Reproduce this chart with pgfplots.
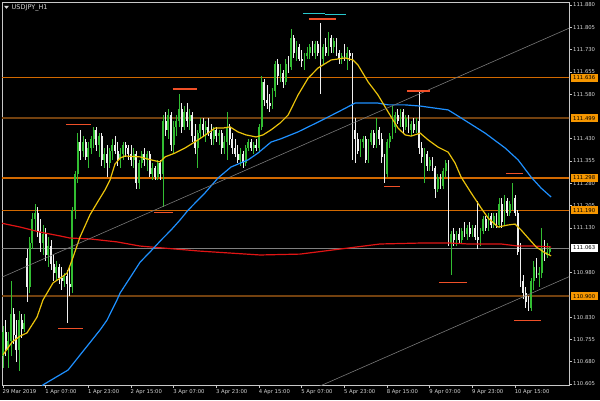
\documentclass[border=0pt]{standalone}
\usepackage{pgfplots}
\pgfplotsset{compat=1.18}
\usepackage{pgfplotstable}
\usepackage{fontspec}
\setmainfont{DejaVu Sans}

\definecolor{framecol}{RGB}{200,200,200}
\definecolor{txtcol}{RGB}{215,215,215}
\definecolor{cup}{RGB}{50,190,50}
\definecolor{cdown}{RGB}{240,240,240}
\definecolor{maY}{RGB}{235,195,10}
\definecolor{maB}{RGB}{30,144,255}
\definecolor{maR}{RGB}{225,20,20}
\definecolor{lvlA}{RGB}{210,105,0}
\definecolor{lvlB}{RGB}{115,65,15}
\definecolor{boxorange}{RGB}{245,150,0}
\definecolor{hlmark}{RGB}{240,80,40}
\definecolor{cyanl}{RGB}{40,200,205}
\definecolor{trend}{RGB}{120,120,120}
\definecolor{bidline}{RGB}{128,128,128}

\newcommand{\smallfont}{\fontsize{5.3}{6}\selectfont}

% USDJPY H1 bars: index, open, high, low, close
\pgfplotstableread{
i o h l c
0 110.70 110.80 110.66 110.78
1 110.78 110.82 110.70 110.72
2 110.72 110.78 110.66 110.75
3 110.75 110.95 110.70 110.84
4 110.84 110.86 110.74 110.77
5 110.77 110.82 110.68 110.72
6 110.72 110.85 110.65 110.82
7 110.82 110.84 110.76 110.79
8 110.79 110.84 110.78 110.81
9 111.03 111.06 110.88 110.93
10 110.93 111.10 110.91 111.08
11 111.08 111.18 111.06 111.16
12 111.16 111.21 111.12 111.18
13 111.18 111.20 111.10 111.12
14 111.12 111.16 111.05 111.08
15 111.08 111.14 111.04 111.11
16 111.11 111.13 111.02 111.04
17 111.04 111.10 111.00 111.07
18 111.07 111.09 110.99 111.01
19 111.01 111.04 110.95 110.98
20 110.98 111.02 110.95 111.00
21 111.00 111.01 110.94 110.96
22 110.96 111.00 110.92 110.95
23 110.95 110.98 110.93 110.97
24 110.97 110.99 110.81 110.94
25 110.94 111.00 110.90 110.93
26 110.93 111.20 110.91 111.19
27 111.19 111.32 111.16 111.31
28 111.31 111.45 111.28 111.42
29 111.42 111.46 111.36 111.39
30 111.39 111.44 111.37 111.42
31 111.42 111.43 111.36 111.37
32 111.37 111.42 111.33 111.40
33 111.40 111.44 111.38 111.43
34 111.43 111.47 111.40 111.46
35 111.46 111.47 111.39 111.41
36 111.41 111.45 111.37 111.44
37 111.44 111.45 111.34 111.36
38 111.36 111.40 111.33 111.38
39 111.38 111.41 111.30 111.35
40 111.35 111.40 111.33 111.39
41 111.39 111.43 111.36 111.41
42 111.41 111.44 111.38 111.39
43 111.39 111.42 111.34 111.36
44 111.36 111.40 111.33 111.38
45 111.38 111.42 111.36 111.41
46 111.41 111.42 111.37 111.40
47 111.40 111.41 111.36 111.38
48 111.38 111.41 111.34 111.36
49 111.36 111.40 111.33 111.38
50 111.38 111.39 111.26 111.28
51 111.28 111.36 111.26 111.35
52 111.35 111.39 111.33 111.38
53 111.38 111.40 111.34 111.36
54 111.36 111.39 111.32 111.38
55 111.38 111.39 111.30 111.31
56 111.31 111.35 111.29 111.33
57 111.33 111.34 111.29 111.30
58 111.30 111.36 111.29 111.35
59 111.35 111.36 111.29 111.31
60 111.31 111.51 111.20 111.49
61 111.49 111.52 111.44 111.46
62 111.46 111.53 111.43 111.51
63 111.51 111.52 111.39 111.41
64 111.41 111.49 111.38 111.47
65 111.47 111.51 111.44 111.49
66 111.49 111.58 111.47 111.53
67 111.53 111.55 111.45 111.47
68 111.47 111.54 111.46 111.52
69 111.52 111.55 111.47 111.49
70 111.49 111.53 111.46 111.51
71 111.51 111.52 111.42 111.44
72 111.44 111.48 111.38 111.40
73 111.40 111.46 111.33 111.45
74 111.45 111.50 111.43 111.48
75 111.48 111.50 111.44 111.46
76 111.46 111.49 111.42 111.47
77 111.47 111.50 111.44 111.45
78 111.45 111.48 111.41 111.43
79 111.43 111.47 111.41 111.46
80 111.46 111.47 111.42 111.44
81 111.44 111.46 111.41 111.45
82 111.45 111.46 111.38 111.40
83 111.40 111.44 111.38 111.42
84 111.42 111.52 111.36 111.47
85 111.47 111.48 111.41 111.43
86 111.43 111.45 111.38 111.40
87 111.40 111.43 111.37 111.38
88 111.38 111.41 111.35 111.36
89 111.36 111.40 111.34 111.38
90 111.38 111.39 111.33 111.35
91 111.35 111.41 111.34 111.40
92 111.40 111.43 111.39 111.42
93 111.42 111.43 111.39 111.40
94 111.40 111.42 111.38 111.41
95 111.41 111.43 111.39 111.40
96 111.40 111.48 111.39 111.47
97 111.47 111.64 111.46 111.62
98 111.62 111.63 111.54 111.56
99 111.56 111.61 111.53 111.55
100 111.55 111.58 111.52 111.54
101 111.54 111.60 111.53 111.59
102 111.59 111.69 111.57 111.68
103 111.68 111.70 111.61 111.64
104 111.64 111.68 111.62 111.65
105 111.65 111.66 111.60 111.62
106 111.62 111.70 111.61 111.68
107 111.68 111.71 111.65 111.67
108 111.67 111.80 111.66 111.77
109 111.77 111.78 111.70 111.72
110 111.72 111.76 111.69 111.74
111 111.74 111.75 111.69 111.70
112 111.70 111.73 111.67 111.69
113 111.69 111.72 111.66 111.71
114 111.71 111.74 111.70 111.72
115 111.72 111.75 111.70 111.74
116 111.74 111.76 111.71 111.72
117 111.72 111.76 111.70 111.75
118 111.75 111.76 111.71 111.72
119 111.72 111.82 111.58 111.70
120 111.70 111.75 111.68 111.74
121 111.74 111.77 111.71 111.72
122 111.72 111.79 111.71 111.77
123 111.77 111.78 111.72 111.74
124 111.74 111.77 111.72 111.76
125 111.76 111.77 111.71 111.72
126 111.72 111.73 111.68 111.70
127 111.70 111.72 111.68 111.71
128 111.71 111.75 111.69 111.70
129 111.70 111.74 111.66 111.72
130 111.72 111.73 111.69 111.71
131 111.71 111.72 111.36 111.42
132 111.46 111.50 111.35 111.43
133 111.43 111.45 111.38 111.39
134 111.39 111.43 111.37 111.42
135 111.42 111.44 111.40 111.43
136 111.43 111.44 111.35 111.36
137 111.36 111.43 111.35 111.42
138 111.42 111.46 111.41 111.45
139 111.45 111.46 111.40 111.41
140 111.41 111.50 111.40 111.46
141 111.46 111.47 111.41 111.43
142 111.43 111.45 111.35 111.37
143 111.37 111.38 111.28 111.31
144 111.31 111.43 111.30 111.42
145 111.42 111.45 111.40 111.44
146 111.44 111.54 111.43 111.47
147 111.47 111.52 111.45 111.51
148 111.51 111.53 111.48 111.49
149 111.49 111.53 111.47 111.52
150 111.52 111.53 111.45 111.47
151 111.47 111.51 111.46 111.50
152 111.50 111.51 111.45 111.46
153 111.46 111.49 111.44 111.48
154 111.48 111.50 111.45 111.46
155 111.46 111.50 111.45 111.49
156 111.49 111.59 111.38 111.40
157 111.40 111.42 111.35 111.37
158 111.37 111.40 111.28 111.38
159 111.38 111.39 111.32 111.34
160 111.34 111.37 111.32 111.36
161 111.36 111.37 111.32 111.33
162 111.33 111.34 111.23 111.26
163 111.26 111.31 111.25 111.30
164 111.30 111.31 111.26 111.27
165 111.27 111.33 111.26 111.32
166 111.32 111.36 111.30 111.35
167 111.35 111.36 111.07 111.08
168 111.08 111.12 110.97 111.11
169 111.11 111.13 111.07 111.09
170 111.09 111.12 111.07 111.11
171 111.11 111.13 111.08 111.09
172 111.09 111.13 111.08 111.12
173 111.12 111.15 111.10 111.11
174 111.11 111.14 111.09 111.13
175 111.13 111.15 111.10 111.11
176 111.11 111.14 111.10 111.13
177 111.13 111.14 111.09 111.10
178 111.10 111.22 111.06 111.09
179 111.09 111.13 111.07 111.12
180 111.12 111.17 111.11 111.16
181 111.16 111.17 111.12 111.13
182 111.13 111.18 111.12 111.17
183 111.17 111.18 111.13 111.14
184 111.14 111.18 111.13 111.17
185 111.17 111.18 111.13 111.14
186 111.14 111.23 111.13 111.21
187 111.21 111.23 111.13 111.15
188 111.15 111.24 111.14 111.22
189 111.22 111.23 111.17 111.18
190 111.18 111.22 111.17 111.21
191 111.21 111.28 111.19 111.23
192 111.23 111.24 111.17 111.18
193 111.18 111.19 111.04 111.05
194 111.05 111.08 110.93 110.95
195 110.95 110.97 110.89 110.91
196 110.91 110.93 110.86 110.88
197 110.88 110.90 110.85 110.86
198 110.86 110.96 110.85 110.95
199 110.95 111.02 110.92 111.00
200 111.00 111.03 110.96 110.97
201 110.97 111.00 110.93 110.98
202 110.98 111.13 110.96 111.06
203 111.06 111.09 111.02 111.04
204 111.04 111.08 111.03 111.05
205 111.05 111.07 111.04 111.063
}\candles

\begin{document}
\begin{tikzpicture}
\fill[black] (0pt,0pt) rectangle (600pt,400pt);
\begin{axis}[
  at={(2pt,15pt)}, anchor=south west,
  scale only axis, width=567pt, height=383pt,
  xmin=-0.375, xmax=212.2, ymin=110.6016, ymax=111.8901,
  clip mode=individual,
  unbounded coords=discard,
  axis line style={draw=framecol, line width=0.8pt},
  tick align=outside, major tick length=3pt,
  tick style={draw=framecol, line width=0.6pt},
  ytick pos=right, yticklabel pos=right,
  xtick pos=bottom,
  scaled y ticks=false,
  % the price scale; 110.905, 111.055 and 111.505 sit under the level boxes
  ytick={110.605,110.680,110.755,110.830,110.980,111.130,111.205,111.280,111.355,111.430,111.580,111.655,111.730,111.805,111.880},
  yticklabel style={font=\smallfont, text=txtcol, anchor=west, inner sep=0pt, xshift=1pt,
    /pgf/number format/.cd, fixed, fixed zerofill, precision=3, 1000 sep={}, assume math mode=true},
  xtick={0,16,32,48,64,80,96,112,128,144,160,176,192},
  xticklabels={29 Mar 2019,1 Apr 07:00,1 Apr 23:00,2 Apr 15:00,3 Apr 07:00,3 Apr 23:00,4 Apr 15:00,5 Apr 07:00,5 Apr 23:00,8 Apr 15:00,9 Apr 07:00,9 Apr 23:00,10 Apr 15:00},
  xticklabel style={font=\smallfont, text=txtcol, anchor=north west, inner sep=0pt, xshift=-0.5pt, yshift=-1pt},
]
% support / resistance levels
\addplot[lvlA, line width=1.1pt] coordinates {(-1,111.636) (213,111.636)};
\addplot[lvlB, line width=2pt] coordinates {(-1,111.499) (213,111.499)};
\addplot[lvlA, line width=1.1pt] coordinates {(-1,111.298) (213,111.298)};
\addplot[lvlA, line width=1.1pt] coordinates {(-1,111.190) (213,111.190)};
\addplot[lvlB, line width=2pt] coordinates {(-1,110.900) (213,110.900)};
% bid line
\addplot[bidline, line width=0.6pt] coordinates {(-1,111.063) (213,111.063)};

% candle wicks
\addplot[draw=none, mark=none, forget plot, error bars/.cd, y dir=both, y explicit, error mark=none,
  error bar style={draw=cup, line width=0.7pt}]
  table[x=i, y expr={\thisrow{c}>=\thisrow{o} ? 0.5*(\thisrow{h}+\thisrow{l}) : nan},
        y error expr={0.5*(\thisrow{h}-\thisrow{l})}] {\candles};
\addplot[draw=none, mark=none, forget plot, error bars/.cd, y dir=both, y explicit, error mark=none,
  error bar style={draw=cdown, line width=0.7pt}]
  table[x=i, y expr={\thisrow{c}<\thisrow{o} ? 0.5*(\thisrow{h}+\thisrow{l}) : nan},
        y error expr={0.5*(\thisrow{h}-\thisrow{l})}] {\candles};
% candle bodies
\addplot[draw=none, mark=none, forget plot, error bars/.cd, y dir=both, y explicit, error mark=none,
  error bar style={draw=cup, line width=1.8pt}]
  table[x=i, y expr={\thisrow{c}>=\thisrow{o} ? 0.5*(\thisrow{o}+\thisrow{c}) : nan},
        y error expr={max(0.5*abs(\thisrow{c}-\thisrow{o}),0.0015)}] {\candles};
\addplot[draw=none, mark=none, forget plot, error bars/.cd, y dir=both, y explicit, error mark=none,
  error bar style={draw=cdown, line width=1.8pt}]
  table[x=i, y expr={\thisrow{c}<\thisrow{o} ? 0.5*(\thisrow{o}+\thisrow{c}) : nan},
        y error expr={max(0.5*abs(\thisrow{c}-\thisrow{o}),0.0015)}] {\candles};

% slow moving average
\addplot[maR, line width=1.2pt] coordinates {
(-1.1,111.147) (6.4,111.133) (13.9,111.116) (21.4,111.103) (25.1,111.096) (32.6,111.093)
(42.75,111.083) (51.4,111.069) (73.9,111.052) (96.4,111.039) (111.4,111.042) (126.4,111.059)
(141.4,111.076) (155.6,111.079) (168,111.079) (174.4,111.076) (186.75,111.076) (193.1,111.069)
(199.5,111.069) (205.5,111.066)};
% medium moving average
\addplot[maB, line width=1.2pt] coordinates {
(13.1,110.578) (15,110.602) (24.4,110.652) (36.4,110.787) (39,110.820) (42.75,110.888)
(43.9,110.911) (48.75,110.978) (51.4,111.015) (55.1,111.049) (59.25,111.089) (63,111.123)
(66.4,111.157) (69.4,111.190) (75.75,111.248) (80.6,111.298) (85.5,111.335) (91.9,111.359)
(95.6,111.382) (100.5,111.419) (103.9,111.429) (110.6,111.453) (118.1,111.486) (125.6,111.520)
(132,111.550) (135.75,111.550) (140.6,111.550) (144.4,111.544) (150.75,111.544) (156.4,111.540)
(166.9,111.527) (171.75,111.500) (180.75,111.449) (188.25,111.399) (193.1,111.359) (198,111.301)
(201.75,111.264) (205.5,111.234)};
% fast moving average
\addplot[maY, line width=1.2pt] coordinates {
(0,110.703) (3.4,110.746) (6.4,110.766) (9,110.777) (12.75,110.830) (15,110.888) (18.75,110.945)
(22.1,110.965) (24,110.978) (25.9,111.022) (28.9,111.100) (32.6,111.174) (35.25,111.214)
(38.25,111.258) (40.1,111.291) (42,111.345) (43.9,111.365) (45.75,111.372) (51.4,111.369)
(55.5,111.359) (58.9,111.352) (60.75,111.369) (64.5,111.382) (68.25,111.399) (73.1,111.426)
(76.9,111.449) (79.5,111.466) (82.5,111.466) (85.1,111.470) (88.1,111.453) (91.1,111.443)
(94.9,111.436) (97.5,111.443) (100.5,111.460) (103.9,111.483) (106.9,111.510) (110.6,111.577)
(114.4,111.634) (118.1,111.668) (123,111.695) (128.25,111.702) (131.25,111.695) (133.1,111.678)
(136.9,111.621) (140.6,111.577) (144.4,111.520) (148.1,111.466) (150.75,111.443) (153,111.439)
(156.4,111.449) (159.4,111.426) (163.1,111.402) (166.9,111.385) (169.5,111.348) (171.75,111.301)
(175.5,111.248) (179.25,111.197) (181.9,111.163) (185.6,111.133) (189.4,111.140) (192,111.143)
(194.25,111.123) (196.9,111.096) (199.9,111.066) (203.25,111.046) (205.5,111.036)};

% channel trend lines
\addplot[trend, line width=0.6pt] coordinates {(-1,110.962) (213,111.805)};
\addplot[trend, line width=0.6pt] coordinates {(115,110.583) (213,110.969)};

% daily high / low marks
\addplot[hlmark, line width=1.3pt] coordinates {(23.6,111.479) (33.0,111.479)};
\addplot[hlmark, line width=1.3pt] coordinates {(63.6,111.597) (72.9,111.597)};
\addplot[hlmark, line width=1.3pt] coordinates {(56.6,111.183) (63.7,111.183)};
\addplot[hlmark, line width=1.3pt] coordinates {(20.7,110.792) (29.9,110.792)};
\addplot[hlmark, line width=1.3pt] coordinates {(114.7,111.833) (124.9,111.833)};
\addplot[hlmark, line width=1.3pt] coordinates {(151.5,111.591) (160.1,111.591)};
\addplot[hlmark, line width=1.3pt] coordinates {(142.9,111.269) (148.9,111.269)};
\addplot[hlmark, line width=1.3pt] coordinates {(163.5,110.946) (174.0,110.946)};
\addplot[hlmark, line width=1.3pt] coordinates {(188.5,111.314) (195.0,111.314)};
\addplot[hlmark, line width=1.3pt] coordinates {(191.6,110.818) (201.8,110.818)};
\addplot[cyanl, line width=1.3pt] coordinates {(112.5,111.852) (120.7,111.852)};
\addplot[cyanl, line width=1.3pt] coordinates {(120.7,111.848) (128.6,111.848)};

% price labels on the scale
\tikzset{pbox/.style={anchor=west, font=\smallfont, text=black, inner xsep=0pt, inner ysep=0pt,
  minimum width=27pt, minimum height=8pt, xshift=1.5pt}}
\node[pbox, fill=boxorange] at (axis cs:212.2,111.636) {111.636};
\node[pbox, fill=boxorange] at (axis cs:212.2,111.499) {111.499};
\node[pbox, fill=boxorange] at (axis cs:212.2,111.298) {111.298};
\node[pbox, fill=boxorange] at (axis cs:212.2,111.190) {111.190};
\node[pbox, fill=boxorange] at (axis cs:212.2,110.900) {110.900};
\node[pbox, fill=white] at (axis cs:212.2,111.063) {111.063};
\end{axis}
% chart caption
\fill[txtcol] (4pt,394.2pt) -- (9pt,394.2pt) -- (6.5pt,391.2pt) -- cycle;
\node[anchor=west, font=\fontsize{6.5}{7.5}\selectfont, text=txtcol, inner sep=0pt] at (11.5pt,392.6pt) {USDJPY\_H1};
\pgfresetboundingbox
\path (0pt,0pt) rectangle (600pt,400pt);
\end{tikzpicture}
\end{document}
